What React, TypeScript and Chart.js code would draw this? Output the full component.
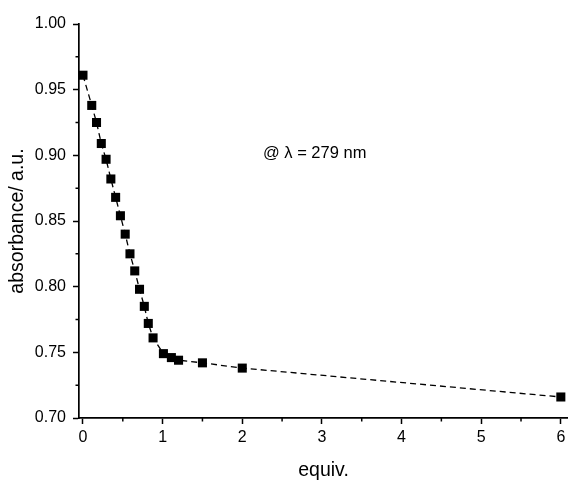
import React, { useEffect, useRef } from "react";
import { Chart, registerables } from "chart.js";

Chart.register(...registerables);

const equivValues = [0, 0.11, 0.17, 0.23, 0.29, 0.35, 0.41, 0.47, 0.53, 0.59, 0.65, 0.71, 0.77, 0.82, 0.88, 1.01, 1.11, 1.2, 1.5, 2, 6];
const absorbanceValues = [0.961, 0.938, 0.925, 0.909, 0.897, 0.882, 0.868, 0.854, 0.840, 0.825, 0.812, 0.798, 0.785, 0.772, 0.761, 0.749, 0.746, 0.744, 0.742, 0.738, 0.716];
const xTicks = [0, 1, 2, 3, 4, 5, 6];
const xMinorTicks = [0.5, 1.5, 2.5, 3.5, 4.5, 5.5];
const yTicks = [0.7, 0.75, 0.8, 0.85, 0.9, 0.95, 1.0];
const yMinorTicks = [0.725, 0.775, 0.825, 0.875, 0.925, 0.975];
const annotationText = "@ λ = 279 nm";
const annotationAt = { x: 2.26, y: 0.9017 };

const FONT = "'Liberation Sans', Arial, sans-serif";

const extrasPlugin = {
  id: "extras",
  afterDraw(chart: any) {
    const ctx = chart.ctx;
    const xs = chart.scales.x;
    const ys = chart.scales.y;
    ctx.save();
    ctx.strokeStyle = "#000";
    ctx.lineWidth = 1.5;
    ctx.beginPath();
    for (const v of xMinorTicks) {
      const px = xs.getPixelForValue(v);
      ctx.moveTo(px, xs.top);
      ctx.lineTo(px, xs.top + 3.5);
    }
    for (const v of yMinorTicks) {
      const py = ys.getPixelForValue(v);
      ctx.moveTo(ys.right, py);
      ctx.lineTo(ys.right - 3.5, py);
    }
    ctx.stroke();
    ctx.fillStyle = "#000";
    ctx.font = `16.5px ${FONT}`;
    ctx.textAlign = "left";
    ctx.textBaseline = "middle";
    ctx.fillText(annotationText, xs.getPixelForValue(annotationAt.x), ys.getPixelForValue(annotationAt.y));
    ctx.restore();
  },
};

export default function App() {
  const ref = useRef<HTMLCanvasElement>(null);
  useEffect(() => {
    if (!ref.current) return;
    const chart = new Chart(ref.current, {
      type: "line",
      data: {
        datasets: [
          {
            data: equivValues.map((x, i) => ({ x, y: absorbanceValues[i] })),
            borderColor: "#000",
            borderWidth: 1.3,
            borderDash: [6, 4],
            backgroundColor: "#000",
            pointStyle: "rect",
            pointRadius: 6.4,
            pointBorderWidth: 0,
            pointBackgroundColor: "#000",
            tension: 0,
            fill: false,
            clip: false,
          },
        ],
      },
      options: {
        responsive: false,
        animation: false,
        layout: { autoPadding: false, padding: { top: 24, right: 0, left: 0, bottom: 0 } },
        plugins: { legend: { display: false }, tooltip: { enabled: false } },
        scales: {
          x: {
            type: "linear",
            min: -0.05,
            max: 6.09,
            afterBuildTicks: (s: any) => {
              s.ticks = xTicks.map((v) => ({ value: v }));
            },
            afterFit: (s: any) => {
              s.height = 65;
              s.paddingRight = 0;
              s.paddingLeft = 0;
            },
            grid: { drawOnChartArea: false, drawTicks: true, tickLength: 6, color: "#000", tickWidth: 1.5 },
            border: { display: true, color: "#000", width: 1.7 },
            ticks: { color: "#000", font: { family: FONT, size: 16 }, padding: 4, maxRotation: 0, autoSkip: false, callback: (v: any) => String(v) },
            title: { display: true, text: "equiv.", color: "#000", font: { family: FONT, size: 19.5 }, padding: { top: 0, bottom: 1 } },
          },
          y: {
            type: "linear",
            min: 0.7,
            max: 1.0,
            afterBuildTicks: (s: any) => {
              s.ticks = yTicks.map((v) => ({ value: v }));
            },
            afterFit: (s: any) => {
              s.width = 79;
            },
            grid: { drawOnChartArea: false, drawTicks: true, tickLength: 6, color: "#000", tickWidth: 1.5 },
            border: { display: true, color: "#000", width: 1.7 },
            ticks: { color: "#000", font: { family: FONT, size: 16 }, padding: 7, autoSkip: false, callback: (v: any) => Number(v).toFixed(2) },
            title: { display: true, text: "absorbance/ a.u.", color: "#000", font: { family: FONT, size: 19.5 }, padding: { top: 5.5, bottom: 0 } },
          },
        },
      },
      plugins: [extrasPlugin],
    } as any);
    return () => chart.destroy();
  }, []);
  return (
    <div style={{ position: "fixed", left: 0, top: 0, width: 568, height: 483, background: "#fff" }}>
      <canvas ref={ref} width={568} height={483} style={{ display: "block" }} />
    </div>
  );
}
